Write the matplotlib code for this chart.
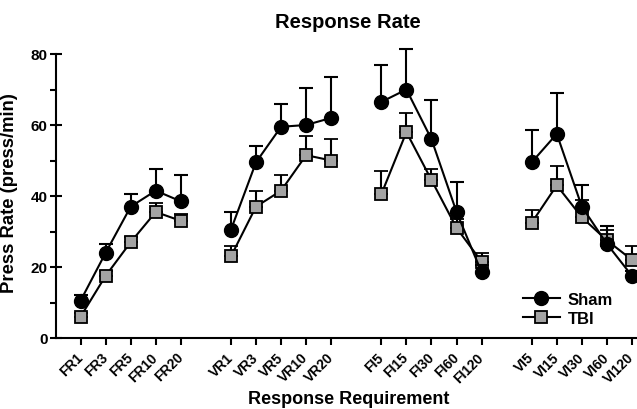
import matplotlib
matplotlib.use("Agg")
import matplotlib.pyplot as plt
import matplotlib.transforms as mtransforms
from matplotlib.lines import Line2D
import numpy as np

plt.rcParams['font.family'] = ['Liberation Sans', 'DejaVu Sans']
plt.rcParams['font.weight'] = 'bold'

categories = ["FR1", "FR3", "FR5", "FR10", "FR20",
              "VR1", "VR3", "VR5", "VR10", "VR20",
              "FI5", "FI15", "FI30", "FI60", "FI120",
              "VI5", "VI15", "VI30", "VI60", "VI120"]
groups = [0, 0, 0, 0, 0, 1, 1, 1, 1, 1, 2, 2, 2, 2, 2, 3, 3, 3, 3, 3]

sham = [10.5, 24, 37, 41.5, 38.5,
        30.5, 49.5, 59.5, 60, 62,
        66.5, 70, 56, 35.5, 18.5,
        49.5, 57.5, 37, 26.5, 17.5]
sham_err = [1.5, 2.5, 3.5, 6, 7.5,
            5, 4.5, 6.5, 10.5, 11.5,
            10.5, 11.5, 11, 8.5, 2,
            9, 11.5, 6, 5, 1.5]
tbi = [6, 17.5, 27, 35.5, 33,
       23, 37, 41.5, 51.5, 50,
       40.5, 58, 44.5, 31, 21.5,
       32.5, 43, 34, 27.5, 22]
tbi_err = [1, 1.5, 1.5, 2.5, 2,
           3, 4.5, 4.5, 5.5, 6,
           6.5, 5.5, 3, 2.5, 2.5,
           3.5, 5.5, 5, 3, 4]

W, H = 637, 410
fig = plt.figure(figsize=(W / 100, H / 100), dpi=100)
y0_px, y80_px = 339, 55
ppu = (y0_px - y80_px) / 80.0
ymax = 82
ax_h = ymax * ppu / H
ax_b = 1 - y0_px / H
ax_l = 55.5 / W
ax = fig.add_axes([ax_l, ax_b, 1 - ax_l, ax_h])

pos = np.array([i + 1 * g for i, g in enumerate(groups)])

for g in range(4):
    idx = [i for i, gg in enumerate(groups) if gg == g]
    x = pos[idx]
    s = np.array(sham)[idx]; se = np.array(sham_err)[idx]
    t = np.array(tbi)[idx]; te = np.array(tbi_err)[idx]
    ax.errorbar(x, t, yerr=[np.zeros_like(te), te], color='black', lw=1.5,
                capsize=5, capthick=1.5, marker='s', ms=9, mfc='#a3a3a3',
                mec='black', mew=1.3, clip_on=False, zorder=3)
    ax.errorbar(x, s, yerr=[np.zeros_like(se), se], color='black', lw=1.5,
                capsize=5, capthick=1.5, marker='o', ms=10, mfc='black',
                mec='black', clip_on=False, zorder=4)

ax.set_xlim(-1.0, 22.2)
ax.set_ylim(0, ymax)
ax.spines['top'].set_visible(False)
ax.spines['right'].set_visible(False)
ax.spines['left'].set_bounds(0, 80)
ax.spines['left'].set_linewidth(1.5)
ax.spines['bottom'].set_linewidth(1.5)

ax.set_yticks([0, 20, 40, 60, 80])
ax.set_yticks([10, 30, 50, 70], minor=True)
ax.tick_params(axis='y', which='major', direction='inout', length=9, width=1.5, labelsize=11, pad=1)
ax.tick_params(axis='y', which='minor', direction='out', length=4.5, width=1.5)
ax.set_xticks(pos)
ax.set_xticklabels(categories, rotation=45, ha='right', va='center',
                   rotation_mode='anchor', fontsize=10, fontweight='bold')
ax.tick_params(axis='x', direction='out', length=5, width=1.5, pad=7)

ax.set_ylabel("Press Rate (press/min)", fontsize=13.3, fontweight='bold')
ax.yaxis.set_label_coords(18 / W, 1 - 193 / H, transform=fig.transFigure)
ax.set_xlabel("Response Requirement", fontsize=13, fontweight='bold', va='center')
ax.xaxis.set_label_coords(348.5 / W, 1 - 400 / H, transform=fig.transFigure)
fig.text(348 / W, 1 - 22 / H, "Response Rate", ha='center', va='center',
         fontsize=14.5, fontweight='bold')

h_sham = Line2D([], [], color='black', lw=1.5, marker='o', ms=10, mfc='black', mec='black')
h_tbi = Line2D([], [], color='black', lw=1.5, marker='s', ms=9, mfc='#a3a3a3', mec='black', mew=1.3)
ax.legend([h_sham, h_tbi], ['Sham', 'TBI'],
          loc='lower right', bbox_to_anchor=(0.985, -0.01), frameon=False,
          fontsize=12, handlelength=2.2, handletextpad=0.5, labelspacing=0.25)

fig.savefig("out.png", dpi=100)
